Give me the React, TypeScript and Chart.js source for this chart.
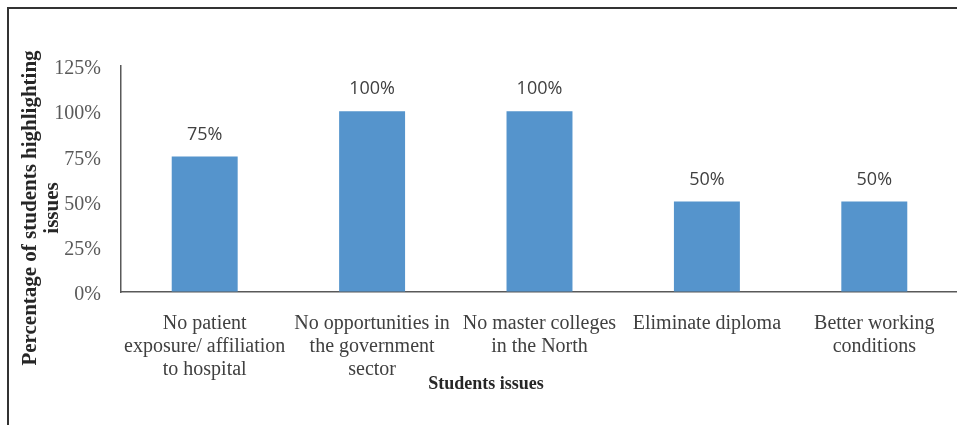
import React, { useEffect, useRef } from "react";
import { Chart, registerables } from "chart.js";

Chart.register(...registerables);

const categories: string[][] = [
  ["No patient", "exposure/ affiliation", "to hospital"],
  ["No opportunities in", "the government", "sector"],
  ["No master colleges", "in the North"],
  ["Eliminate diploma"],
  ["Better working", "conditions"],
];
const values: number[] = [75, 100, 100, 50, 50];
const valueLabels: string[] = ["75%", "100%", "100%", "50%", "50%"];
const yTicks: number[] = [0, 25, 50, 75, 100, 125];
const yTitleLines: string[] = ["Percentage of students highlighting", "issues"];
const xTitle = "Students issues";

const SERIF = "'Liberation Serif', 'Times New Roman', serif";

const overlayPlugin = {
  id: "overlay",
  afterDatasetsDraw(chart: any) {
    const ctx = chart.ctx;
    const meta = chart.getDatasetMeta(0);
    ctx.save();
    ctx.fillStyle = "#404040";
    ctx.font = "18px 'Open Sans', sans-serif";
    ctx.textAlign = "center";
    ctx.textBaseline = "middle";
    meta.data.forEach((bar: any, i: number) => {
      ctx.fillText(valueLabels[i], bar.x, bar.y - 22);
    });
    // x axis title
    ctx.fillStyle = "#262626";
    ctx.font = "bold 18px " + SERIF;
    ctx.fillText(xTitle, 486, 384);
    // y axis title
    ctx.save();
    ctx.translate(31, 208);
    ctx.rotate(-Math.PI / 2);
    ctx.font = "bold 21px " + SERIF;
    ctx.fillText(yTitleLines[0], 0, 0);
    ctx.restore();
    ctx.save();
    ctx.translate(53, 208);
    ctx.rotate(-Math.PI / 2);
    ctx.font = "bold 21px " + SERIF;
    ctx.fillText(yTitleLines[1], 0, 0);
    ctx.restore();
    ctx.restore();
  },
};

export default function App() {
  const ref = useRef<HTMLCanvasElement | null>(null);
  useEffect(() => {
    if (!ref.current) return;
    const chart = new Chart(ref.current, {
      type: "bar",
      data: {
        labels: categories,
        datasets: [
          {
            data: values,
            backgroundColor: "#5594CC",
            borderWidth: 0,
            barPercentage: 0.394,
            categoryPercentage: 1,
          },
        ],
      },
      options: {
        animation: false,
        responsive: false,
        devicePixelRatio: 1,
        layout: { padding: { top: 66, right: 4, left: 0, bottom: 0 } },
        plugins: {
          legend: { display: false },
          tooltip: { enabled: false },
          title: { display: false },
        },
        scales: {
          x: {
            grid: { display: true, color: "transparent", drawTicks: false },
            border: { display: true, color: "#595959", width: 1.5 },
            ticks: {
              color: "#404040",
              font: { family: SERIF, size: 20, lineHeight: 1.15 },
              padding: 20,
              maxRotation: 0,
              autoSkip: false,
            },
            afterFit: (s: any) => {
              s.height = 133;
            },
          },
          y: {
            min: 0,
            max: 125,
            afterBuildTicks: (s: any) => {
              s.ticks = yTicks.map((v) => ({ value: v }));
            },
            grid: { display: true, color: "transparent", drawTicks: false },
            border: { display: true, color: "#595959", width: 1.5 },
            ticks: {
              color: "#595959",
              font: { family: SERIF, size: 20 },
              padding: 20,
              labelOffset: 3,
              callback: (v: any) => v + "%",
            },
            afterFit: (s: any) => {
              s.width = 121;
            },
          },
        },
      },
      plugins: [overlayPlugin],
    });
    return () => chart.destroy();
  }, []);
  return (
    <div
      style={{
        position: "fixed",
        left: 0,
        top: 0,
        width: 957,
        height: 425,
        overflow: "hidden",
        background: "#ffffff",
      }}
    >
      <div
        style={{
          position: "absolute",
          left: 7,
          top: 7,
          width: 1000,
          height: 500,
          borderTop: "2px solid #333333",
          borderLeft: "2px solid #333333",
        }}
      />
      <canvas
        ref={ref}
        width={962}
        height={425}
        style={{ position: "absolute", left: 0, top: 0, width: 962, height: 425 }}
      />
    </div>
  );
}
